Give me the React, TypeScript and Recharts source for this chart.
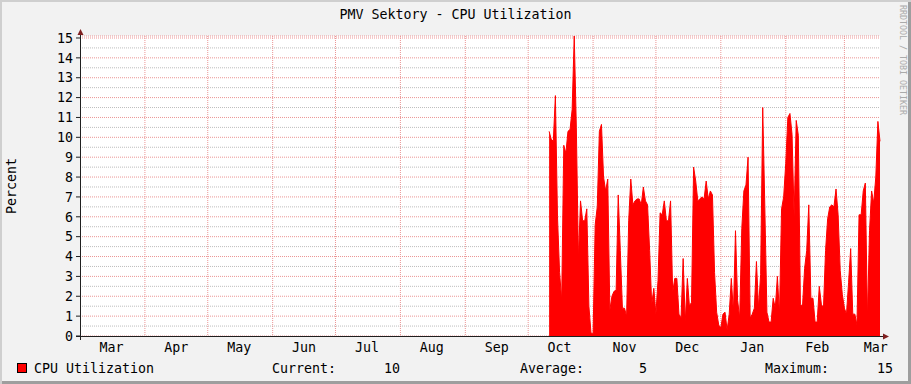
import { Area, AreaChart, CartesianGrid, XAxis, YAxis } from "recharts";

const FONT = "'DejaVu Sans Mono', monospace";

// one sample per day, day 0 = 1 Mar
const cpuStartDay = 224;
const cpuValues = [
  10.3, 9.9, 9.8, 12.1, 6.0, 3.2, 1.8, 9.6, 9.2, 10.3,
  10.4, 11.4, 15.1, 10.5, 3.9, 6.8, 5.8, 5.8, 6.4, 1.5,
  0.15, 0.1, 5.6, 6.5, 10.3, 10.65, 8.0, 7.3, 7.9, 1.3,
  2.0, 2.25, 2.3, 7.1, 4.3, 1.4, 1.4, 1.0, 5.8, 7.9,
  6.6, 6.8, 6.9, 6.9, 6.6, 7.5, 6.8, 6.6, 4.3, 1.6,
  2.4, 1.1, 2.8, 6.2, 6.1, 6.8, 5.8, 5.8, 6.8, 2.2,
  2.9, 2.9, 1.1, 0.9, 3.9, 0.7, 2.9, 1.5, 1.7, 8.5,
  7.8, 6.8, 6.9, 7.0, 6.9, 7.8, 6.9, 7.3, 7.1, 3.2,
  1.2, 0.55, 0.4, 1.1, 1.2, 0.3, 1.1, 2.9, 1.2, 5.3,
  1.8, 0.9, 5.4, 7.3, 7.6, 9.0, 0.9, 1.1, 1.4, 3.75,
  1.4, 3.1, 11.5, 6.5, 1.2, 0.7, 0.7, 1.9, 1.4, 3.0,
  1.1, 6.4, 7.0, 8.7, 11.0, 11.2, 10.15, 6.0, 10.85, 10.1,
  1.6, 1.5, 3.4, 4.3, 6.6, 1.9, 1.9, 0.7, 0.7, 2.5,
  1.6, 1.4, 4.3, 5.9, 6.5, 6.6, 6.5, 7.4, 6.1, 3.3,
  2.1, 1.4, 1.1, 2.7, 4.4, 1.1, 1.1, 0.55, 6.1, 6.1,
  7.3, 7.7, 0.9, 5.3, 7.3, 6.7, 8.0, 10.8, 9.8,
];

const dayRange = [0, 382];
const monthStarts = [31, 61, 92, 122, 153, 184, 214, 245, 275, 306, 337, 365];
const monthLabelDays = [15, 46, 76, 107, 137, 168, 199, 229, 260, 290, 321, 352, 380];
const monthLabels = ["Mar", "Apr", "May", "Jun", "Jul", "Aug", "Sep", "Oct", "Nov", "Dec", "Jan", "Feb", "Mar"];
const yTicks = [0, 1, 2, 3, 4, 5, 6, 7, 8, 9, 10, 11, 12, 13, 14, 15];
const yMinorTicks = yTicks.slice(1).map((t) => t - 0.5);

const data = cpuValues.map((cpu, i) => ({ day: cpuStartDay + i, cpu }));
const yMax = Math.max(...cpuValues);
const current = cpuValues[cpuValues.length - 1];
const average = cpuValues.reduce((a, b) => a + b, 0) / cpuValues.length;

const txt = { fontFamily: FONT, fontSize: 13.3, fill: "#000" };

// grid lines placed through the axis scales
function scaleX(props: any, d: number) {
  const s = props?.xAxis?.scale;
  if (typeof s === "function") return s(d);
  const o = props.offset;
  return o.left + ((d - dayRange[0]) / (dayRange[1] - dayRange[0])) * o.width;
}
function scaleY(props: any, v: number) {
  const s = props?.yAxis?.scale;
  if (typeof s === "function") return s(v);
  const o = props.offset;
  return o.top + (1 - v / yMax) * o.height;
}

export default function App() {
  return (
    <div
      style={{
        position: "relative",
        width: 911,
        height: 384,
        background: "#f2f2f2",
        boxShadow: "inset 2px 2px 0 #cfcfcf, inset -3px -3px 0 #9e9e9e",
      }}
    >
      <style>{"body{margin:0}"}</style>
      <div style={{ position: "absolute", left: 80, top: 36, width: 800, height: 300, background: "#fff" }} />
      <div style={{ position: "absolute", left: 0, top: 0 }}>
        <AreaChart width={911} height={384} data={data} margin={{ top: 36, right: 31, bottom: 28, left: 0 }}>
          <CartesianGrid
            vertical={false}
            stroke="#bdbdbd"
            strokeDasharray="1 1"
            horizontalCoordinatesGenerator={(p: any) => yMinorTicks.map((v) => scaleY(p, v))}
          />
          <CartesianGrid vertical={false} stroke="#eb9595" strokeDasharray="1 1" />
          <CartesianGrid
            horizontal={false}
            stroke="#eb9595"
            strokeDasharray="1 1"
            verticalCoordinatesGenerator={(p: any) => monthStarts.map((d) => scaleX(p, d))}
          />
          <XAxis
            dataKey="day"
            type="number"
            domain={dayRange}
            ticks={monthLabelDays}
            interval={0}
            tickFormatter={(_v: number, i: number) => monthLabels[i]}
            axisLine={false}
            tickLine={false}
            tickSize={0}
            tickMargin={7}
            height={20}
            tick={txt}
          />
          <YAxis
            type="number"
            domain={[0, yMax]}
            ticks={yTicks}
            interval={0}
            width={80}
            axisLine={false}
            tickLine={{ stroke: "#1f1f1f" }}
            tickSize={4}
            tickMargin={3}
            tick={txt}
          />
          <Area
            type="linear"
            dataKey="cpu"
            stroke="#ff0000"
            strokeWidth={1}
            fill="#ff0000"
            fillOpacity={1}
            dot={false}
            activeDot={false}
            isAnimationActive={false}
          />
        </AreaChart>
      </div>
      <svg width={911} height={384} style={{ position: "absolute", left: 0, top: 0, pointerEvents: "none" }}>
        <line x1={80.5} y1={340} x2={80.5} y2={33} stroke="#1f1f1f" />
        <polygon points="77.5,35 83.5,35 80.5,29" fill="#7f1f1f" />
        <line x1={76} y1={336.5} x2={884} y2={336.5} stroke="#1f1f1f" />
        <polygon points="883,333.5 883,339.5 889,336.5" fill="#7f1f1f" />
        <text x={455.5} y={19} textAnchor="middle" {...txt}>
          PMV Sektory - CPU Utilization
        </text>
        <text transform="translate(15.5,186) rotate(-90)" textAnchor="middle" {...txt}>
          Percent
        </text>
        <text transform="translate(900,5) rotate(90)" fontFamily={FONT} fontSize={8.3} fill="#aaaaaa">
          RRDTOOL / TOBI OETIKER
        </text>
        <rect x={17.5} y={363.5} width={9} height={9} fill="#ff0000" stroke="#000" />
        <text x={34} y={373} {...txt}>CPU Utilization</text>
        <text x={272} y={373} {...txt}>Current:</text>
        <text x={400} y={373} textAnchor="end" {...txt}>{current.toFixed(0)}</text>
        <text x={520} y={373} {...txt}>Average:</text>
        <text x={647} y={373} textAnchor="end" {...txt}>{average.toFixed(0)}</text>
        <text x={765} y={373} {...txt}>Maximum:</text>
        <text x={893} y={373} textAnchor="end" {...txt}>{yMax.toFixed(0)}</text>
      </svg>
    </div>
  );
}
